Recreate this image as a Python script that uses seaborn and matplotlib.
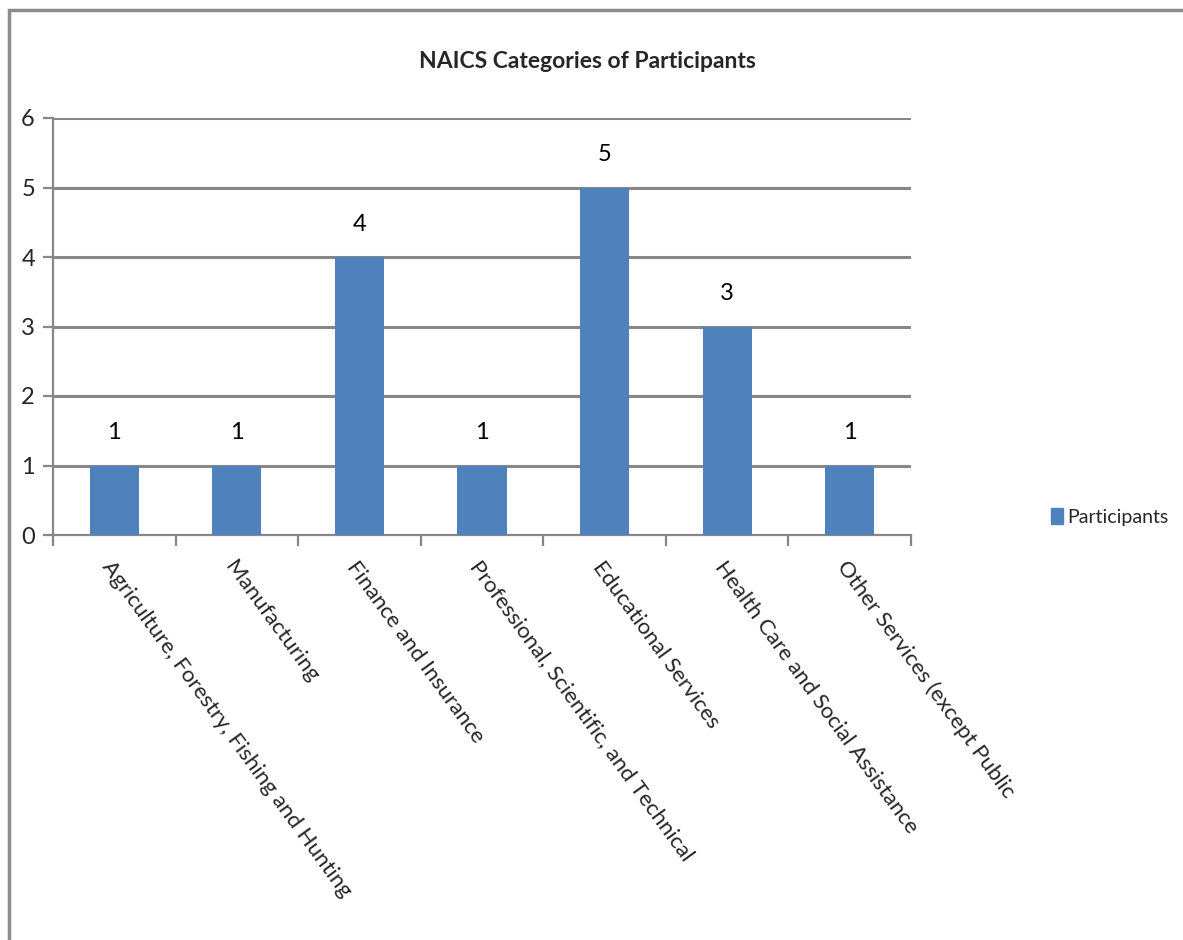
import matplotlib
matplotlib.use("Agg")
import matplotlib.pyplot as plt
import matplotlib.patches as mpatches
import seaborn as sns
import pandas as pd

categories = [
    "Agriculture, Forestry, Fishing and Hunting",
    "Manufacturing",
    "Finance and Insurance",
    "Professional, Scientific, and Technical",
    "Educational Services",
    "Health Care and Social Assistance",
    "Other Services (except Public",
]
participants = [1, 1, 4, 1, 5, 3, 1]
y_ticks = [0, 1, 2, 3, 4, 5, 6]

BAR = "#4f81bd"
GRID = "#878787"
FONT = ["Lato", "DejaVu Sans"]

sns.set_theme(style="white")
plt.rcParams["font.family"] = FONT

df = pd.DataFrame({"category": categories, "value": participants})

W, H = 1183, 940
fig = plt.figure(figsize=(W / 100, H / 100), dpi=100)
ax = fig.add_axes([53 / W, 1 - 535 / H, (911 - 53) / W, (535 - 118) / H])

sns.barplot(data=df, x="category", y="value", color=BAR, width=0.4,
            saturation=1, ax=ax, zorder=3, linewidth=0)

ax.set_ylim(0, 6)
ax.set_xlim(-0.5, len(categories) - 0.5)
ax.set_yticks(y_ticks)
ax.yaxis.grid(True, color=GRID, linewidth=2.2)
ax.set_axisbelow(True)
for s in ["top", "right"]:
    ax.spines[s].set_visible(False)
for s in ["left", "bottom"]:
    ax.spines[s].set_color(GRID)
    ax.spines[s].set_linewidth(1.6)
ax.set_xlabel("")
ax.set_ylabel("")

# category tick marks sit on the boundaries between bars
ax.set_xticks([i - 0.5 for i in range(len(categories) + 1)], minor=True)
ax.tick_params(axis="x", which="minor", length=8, width=1.6, color=GRID, direction="out", bottom=True)
ax.tick_params(axis="x", which="major", length=0, pad=16)
ax.tick_params(axis="y", length=7, width=1.6, color=GRID, direction="out", left=True, labelsize=17, pad=6)

ax.set_xticks(range(len(categories)))
ax.set_xticklabels(categories, rotation=-54, ha="left", va="top",
                   rotation_mode="anchor", fontsize=16)

for i, v in enumerate(participants):
    ax.text(i, v + 0.32, str(v), ha="center", va="bottom", fontsize=17, color="black")

# chart title is centred across the whole chart area
fig.text(587 / W, 1 - 61 / H, "NAICS Categories of Participants", fontsize=16.5,
         fontweight="bold", ha="center", va="center")

handle = mpatches.Patch(color=BAR, label="Participants")
fig.legend(handles=[handle], loc="center left", bbox_to_anchor=(1051 / W, 1 - 517 / H),
           frameon=False, fontsize=14, handlelength=0.6, handleheight=0.9,
           handletextpad=0.25, borderaxespad=0, borderpad=0)

# outer chart border
fig.patches.append(mpatches.Rectangle((9 / W, -0.05), 1.2, 1 - 10 / H + 0.05,
                                      transform=fig.transFigure, fill=False,
                                      edgecolor="#8c8c8c", linewidth=2.5))

fig.savefig("out.png", dpi=100)
